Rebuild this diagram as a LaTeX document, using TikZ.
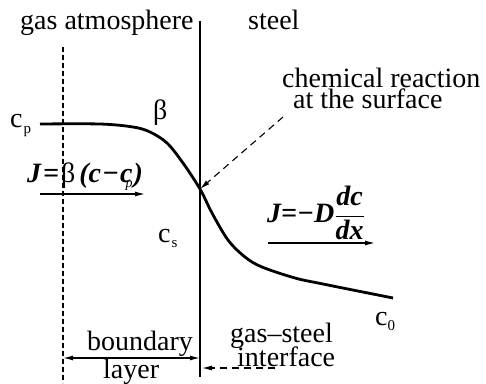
\documentclass[tikz,border=0pt]{standalone}
\usepackage{fontspec}
\setmainfont{Liberation Serif}
\usetikzlibrary{arrows.meta}
\begin{document}
\begin{tikzpicture}[x=1pt,y=-1pt,
  lbl/.style={anchor=base west, inner sep=0pt, font=\fontsize{28}{28}\selectfont},
  thickline/.style={line width=2.8pt},
  guide/.style={line width=1.1pt, dash pattern=on 5pt off 3pt},
  flux/.style={line width=1.2pt, -{Latex[length=10pt,width=5pt]}},
  pointer/.style={line width=1.1pt, dash pattern=on 7pt off 5pt, -{Latex[length=10pt,width=5pt]}},
  span/.style={line width=1.3pt, {Latex[length=10pt,width=5pt]}-{Latex[length=10pt,width=5pt]}},
]
\useasboundingbox (0,0) rectangle (486,383);

% interface and boundary-layer lines
\coordinate (ifTop) at (200,21);
\coordinate (ifBot) at (200,377);
\coordinate (blTop) at (63,47);
\coordinate (blBot) at (63,383);
\draw[thickline] (ifTop) -- (ifBot);
\draw[guide] (blTop) -- (blBot);

% concentration profile
\coordinate (cross) at (200,189);
\draw[thickline, line join=round] plot[smooth, tension=0.55] coordinates {
  (40,124) (100,124) (133,127) (150,132) (167,143) (183,163) (200,189)
  (212,213) (228,240) (245,257) (262,267) (295,278) (323,284) (393,298)};

% texts
\node[lbl] (gas) at (20,29) {gas atmosphere};
\node[lbl] (steel) at (248,29) {steel};
\node[lbl] (chem1) at (282,87) {chemical reaction};
\node[lbl] (chem2) at (293,108) {at the surface};
\node[lbl] (beta) at (153,119) {β};
\node[lbl] (cp) at (10,127) {c\kern1pt\raisebox{-6pt}{\fontsize{15}{15}\selectfont p}};
\node[lbl] (cs) at (158,242) {c\kern1pt\raisebox{-5pt}{\fontsize{15}{15}\selectfont s}};
\node[lbl] (c0) at (375,325) {c\kern0pt\raisebox{-5pt}{\fontsize{15}{15}\selectfont 0}};
\node[lbl] (Jgas) at (27,182) {{\bfseries\itshape J\kern2pt=}\kern2pt β\kern4pt{\bfseries\itshape (c\kern1pt−\kern1pt c}\kern-7pt\raisebox{-5pt}{\fontsize{14}{14}\selectfont\itshape p}\kern1pt{\bfseries\itshape )}};
\node[lbl] (Jsteel) at (267,222) {{\bfseries\itshape J=−D}$\displaystyle\frac{\hbox{\bfseries\itshape dc}}{\hbox{\bfseries\itshape dx}}$};
\node[lbl] (bl1) at (87,350) {boundary};
\node[lbl] (bl2) at (103,378) {layer};
\node[lbl] (gs1) at (230,342) {gas–steel};
\node[lbl] (gs2) at (237,366) {interface};

% arrows
\coordinate (fluxGasA) at (40,194);
\coordinate (fluxGasB) at (145,194);
\draw[flux] (fluxGasA) -- (fluxGasB);
\coordinate (fluxSteelA) at (268,243);
\coordinate (fluxSteelB) at (375,243);
\draw[flux] (fluxSteelA) -- (fluxSteelB);
\coordinate (chemTail) at (283,117);
\draw[pointer] (chemTail) -- (cross);
\coordinate (blL) at (63,358);
\coordinate (blR) at (200,358);
\draw[span] (blL) -- (blR);
\coordinate (ifTail) at (275,368);
\coordinate (ifHead) at (202,368);
\draw[pointer] (ifTail) -- (ifHead);
\end{tikzpicture}
\end{document}
